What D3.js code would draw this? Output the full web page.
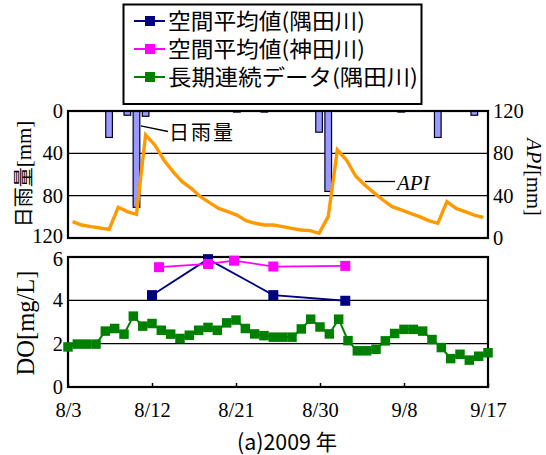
<!DOCTYPE html>
<html>
<head>
<meta charset="utf-8">
<script src="https://cdn.jsdelivr.net/npm/d3@7/dist/d3.min.js"></script>
<style>
  body { margin: 0; background: #fff; }
  svg { display: block; }
</style>
</head>
<body>
<svg id="chart" width="546" height="455"></svg>
<script>
// ---- data -------------------------------------------------------------
// first day of the daily record (8/3/2009), one value per day through 9/17
const startDay = "2009-08-03 00:00";
const endDay = "2009-09-17 00:00";

// daily rainfall [mm]
const dailyRain = [0, 0, 0, 0, 25, 0, 4, 91, 5, 0, 0, 0, 0, 0, 0, 0, 0, 0, 1, 0, 0, 1, 0,
                   0, 0, 0, 0, 20, 76, 0, 0, 0, 0, 0, 0, 0, 1, 0, 0, 0, 25, 0, 0, 0, 4, 0];

// antecedent precipitation index [mm]
const apiMm = [15.4, 12.3, 10.7, 9.5, 8.2, 29, 24.9, 22.4, 97.4, 87.9, 73.7, 62.7, 53.2, 47, 39, 33.4,
               28, 24.9, 21.7, 16.4, 13.9, 12.3, 12.3, 10.7, 9.1, 7.6, 7, 4.4, 20.2, 83.2, 73.7, 58.6,
               50.1, 42.9, 35.9, 29.6, 26.5, 23.3, 20.2, 16.4, 13.9, 34.3, 28, 24.9, 21.7, 19.5];

// long-term continuous DO record, Sumida River [mg/L]
const doLongTerm = [1.85, 1.98, 1.98, 1.98, 2.58, 2.70, 2.44, 3.27, 2.81, 2.93, 2.62, 2.44, 2.24, 2.39, 2.62,
                    2.75, 2.62, 2.96, 3.09, 2.70, 2.45, 2.37, 2.30, 2.30, 2.30, 2.68, 3.13, 2.77, 2.45, 3.13, 2.14,
                    1.67, 1.67, 1.74, 2.13, 2.47, 2.66, 2.66, 2.58, 2.19, 1.82, 1.31, 1.51, 1.24, 1.42, 1.58];

// spatial averages from the survey days
const sumidaDates = ["2009-08-12 00:00", "2009-08-18 00:00", "2009-08-25 00:00", "2009-09-01 17:00"];
const sumidaDO = [4.24, 5.9, 4.24, 3.98];
const kandaDates = ["2009-08-12 18:00", "2009-08-18 00:00", "2009-08-20 19:00", "2009-08-25 00:00", "2009-09-01 17:00"];
const kandaDO = [5.53, 5.68, 5.83, 5.56, 5.59];

// axis ticks
const xTickLabels = ["8/3", "8/12", "8/21", "8/30", "9/8", "9/17"];
const rainTicks = [0, 40, 80, 120];
const apiTicks = [0, 40, 80, 120];
const doTicks = [0, 2, 4, 6];

const legendNames = ["空間平均値(隅田川)", "空間平均値(神田川)", "長期連続データ(隅田川)"];
const seriesColors = ["#000080", "#ff00ff", "#008000"];

// ---- layout -----------------------------------------------------------
const plotLeft = 68, plotRight = 488;
const rainTop = 111, rainBottom = 238;
const doTop = 257, doBottom = 387;
const tickFont = 20.5;

const serif = "'Liberation Serif', 'Times New Roman', serif";
const gothic = "'Noto Sans CJK JP', 'Noto Sans', sans-serif";

const parse = d3.timeParse("%Y-%m-%d %H:%M");
const t0 = parse(startDay);
const dayDates = doLongTerm.map((_, i) => d3.timeDay.offset(t0, i));

const svg = d3.select("#chart");

// ---- scales -----------------------------------------------------------
const x = d3.scaleTime().domain([t0, parse(endDay)]).range([plotLeft, plotRight]);
const xBand = d3.scaleBand().domain(d3.range(dailyRain.length)).range([plotLeft, plotRight]);
const yRain = d3.scaleLinear().domain([0, 120]).range([rainTop, rainBottom]);
const yApi = d3.scaleLinear().domain([0, 120]).range([rainBottom, rainTop]);
const yDO = d3.scaleLinear().domain([0, 6]).range([doBottom, doTop]);

function styleTicks(sel) {
  sel.selectAll("text")
    .attr("font-family", serif).attr("font-size", tickFont).attr("fill", "#000");
}

// ---- rainfall / API panel --------------------------------------------
const rainPanel = svg.append("g");

rainPanel.selectAll("line.grid")
  .data([40, 80])
  .join("line")
  .attr("class", "grid")
  .attr("x1", plotLeft).attr("x2", plotRight)
  .attr("y1", d => yRain(d)).attr("y2", d => yRain(d))
  .attr("stroke", "#000").attr("stroke-width", 1.2);

const barW = xBand.bandwidth() * 0.73;
rainPanel.selectAll("rect.rain")
  .data(dailyRain.map((v, i) => ({ v, i })).filter(d => d.v > 0))
  .join("rect")
  .attr("class", "rain")
  .attr("x", d => xBand(d.i) + (xBand.bandwidth() - barW) / 2)
  .attr("y", yRain(0))
  .attr("width", barW)
  .attr("height", d => yRain(d.v) - yRain(0))
  .attr("fill", "#9999ff")
  .attr("stroke", "#000020")
  .attr("stroke-width", 1.2);

rainPanel.append("path")
  .datum(apiMm)
  .attr("fill", "none")
  .attr("stroke", "#ff9900")
  .attr("stroke-width", 3.4)
  .attr("d", d3.line()
    .x((d, i) => xBand(i) + xBand.bandwidth() / 2)
    .y(d => yApi(d)));

rainPanel.append("rect")
  .attr("x", plotLeft).attr("y", rainTop)
  .attr("width", plotRight - plotLeft).attr("height", rainBottom - rainTop)
  .attr("fill", "none").attr("stroke", "#000").attr("stroke-width", 2.2);

// left axis: daily rainfall (downwards); the lowest label sits a little higher
rainPanel.append("g")
  .attr("transform", `translate(${plotLeft},0)`)
  .call(d3.axisLeft(yRain).tickValues(rainTicks).tickSize(0).tickPadding(5))
  .call(g => g.select(".domain").remove())
  .call(styleTicks)
  .call(g => g.selectAll("text").filter(d => d === 120).attr("y", -2));

// right axis: API
rainPanel.append("g")
  .attr("transform", `translate(${plotRight},0)`)
  .call(d3.axisRight(yApi).tickValues(apiTicks).tickSize(0).tickPadding(5))
  .call(g => g.select(".domain").remove())
  .call(styleTicks);

// callouts
const rainPeak = dailyRain.indexOf(d3.max(dailyRain));
const calloutX = xBand(rainPeak) + xBand.bandwidth() / 2 + barW / 2 + 1;
rainPanel.append("line")
  .attr("x1", calloutX).attr("y1", yRain(14))
  .attr("x2", 168).attr("y2", 131.5)
  .attr("stroke", "#000").attr("stroke-width", 1.3);
rainPanel.append("text")
  .attr("x", 169).attr("y", 140)
  .attr("font-family", gothic).attr("font-size", 20).attr("fill", "#000")
  .attr("letter-spacing", 2)
  .text("日雨量");

rainPanel.append("line")
  .attr("x1", 365).attr("x2", 395)
  .attr("y1", 181.5).attr("y2", 181.5)
  .attr("stroke", "#000").attr("stroke-width", 1.3);
rainPanel.append("text")
  .attr("x", 397).attr("y", 190)
  .attr("font-family", serif).attr("font-style", "italic").attr("font-size", 21).attr("fill", "#000")
  .text("API");

// axis titles
svg.append("text")
  .attr("transform", "translate(31,174) rotate(-90)")
  .attr("text-anchor", "middle")
  .attr("font-size", 20).attr("fill", "#000")
  .call(t => {
    t.append("tspan").attr("font-family", gothic).attr("fill", "#000").text("日雨量");
    t.append("tspan").attr("font-family", serif).attr("font-size", 21).text("[mm]");
  });

svg.append("text")
  .attr("transform", "translate(527,177) rotate(90)")
  .attr("text-anchor", "middle")
  .attr("font-family", serif)
  .attr("font-size", 20.5).attr("fill", "#000")
  .call(t => {
    t.append("tspan").attr("font-style", "italic").text("API");
    t.append("tspan").text("[mm]");
  });

// ---- DO panel ---------------------------------------------------------
const doPanel = svg.append("g");

doPanel.selectAll("line.grid")
  .data([2, 4])
  .join("line")
  .attr("class", "grid")
  .attr("x1", plotLeft).attr("x2", plotRight)
  .attr("y1", d => yDO(d)).attr("y2", d => yDO(d))
  .attr("stroke", "#000").attr("stroke-width", 1.2);

doPanel.append("rect")
  .attr("x", plotLeft).attr("y", doTop)
  .attr("width", plotRight - plotLeft).attr("height", doBottom - doTop)
  .attr("fill", "none").attr("stroke", "#000").attr("stroke-width", 2.2);

const xAxis = d3.axisBottom(x)
  .tickValues(xTickLabels.map(s => {
    const [m, d] = s.split("/").map(Number);
    return new Date(2009, m - 1, d);
  }))
  .tickFormat(d3.timeFormat("%-m/%-d"))
  .tickSizeInner(-4).tickSizeOuter(0).tickPadding(15);

doPanel.append("g")
  .attr("transform", `translate(0,${doBottom})`)
  .call(xAxis)
  .call(g => g.select(".domain").remove())
  .call(g => g.selectAll("line").attr("stroke", "#000").attr("stroke-width", 1.5))
  .call(styleTicks);

doPanel.append("g")
  .attr("transform", `translate(${plotLeft},0)`)
  .call(d3.axisLeft(yDO).tickValues(doTicks).tickFormat(d3.format("d")).tickSize(0).tickPadding(5))
  .call(g => g.select(".domain").remove())
  .call(styleTicks)
  .call(g => g.selectAll("text").filter(d => d === 6).attr("y", 2));

svg.append("text")
  .attr("transform", "translate(34,323) rotate(-90)")
  .attr("text-anchor", "middle")
  .attr("font-family", serif).attr("font-size", 24.5).attr("fill", "#000")
  .text("DO[mg/L]");

// series
function drawSeries(points, color, lineW, size) {
  doPanel.append("path")
    .datum(points)
    .attr("fill", "none").attr("stroke", color).attr("stroke-width", lineW)
    .attr("d", d3.line().x(d => x(d.t)).y(d => yDO(d.v)));
  doPanel.selectAll(null)
    .data(points)
    .join("rect")
    .attr("x", d => x(d.t) - size / 2).attr("y", d => yDO(d.v) - size / 2)
    .attr("width", size).attr("height", size)
    .attr("fill", color);
}

drawSeries(sumidaDates.map((s, i) => ({ t: parse(s), v: sumidaDO[i] })), seriesColors[0], 1.8, 10);
drawSeries(kandaDates.map((s, i) => ({ t: parse(s), v: kandaDO[i] })), seriesColors[1], 1.8, 10);
drawSeries(doLongTerm.map((v, i) => ({ t: dayDates[i], v })), seriesColors[2], 2, 9.5);

// caption
svg.append("text")
  .attr("x", 287).attr("y", 450)
  .attr("text-anchor", "middle")
  .attr("font-family", gothic).attr("font-size", 22).attr("fill", "#000")
  .attr("textLength", 100).attr("lengthAdjust", "spacingAndGlyphs")
  .text("(a)2009 年");

// ---- legend -----------------------------------------------------------
const legend = svg.append("g");
legend.append("rect")
  .attr("x", 123.5).attr("y", 4.5).attr("width", 298).attr("height", 99.5)
  .attr("fill", "#fff").attr("stroke", "#000").attr("stroke-width", 2);

const rowY = [21, 49, 77];
const rowWidths = [197, 197, 250];
legendNames.forEach((name, i) => {
  const y = rowY[i];
  legend.append("line")
    .attr("x1", 134).attr("x2", 165).attr("y1", y).attr("y2", y)
    .attr("stroke", seriesColors[i]).attr("stroke-width", 2);
  legend.append("rect")
    .attr("x", 145).attr("y", y - 5).attr("width", 10).attr("height", 10)
    .attr("fill", seriesColors[i]);
  legend.append("text")
    .attr("x", 168).attr("y", y + 8)
    .attr("font-family", gothic).attr("font-size", 21.5).attr("fill", "#000")
    .attr("textLength", rowWidths[i]).attr("lengthAdjust", "spacingAndGlyphs")
    .text(name);
});
</script>
</body>
</html>
